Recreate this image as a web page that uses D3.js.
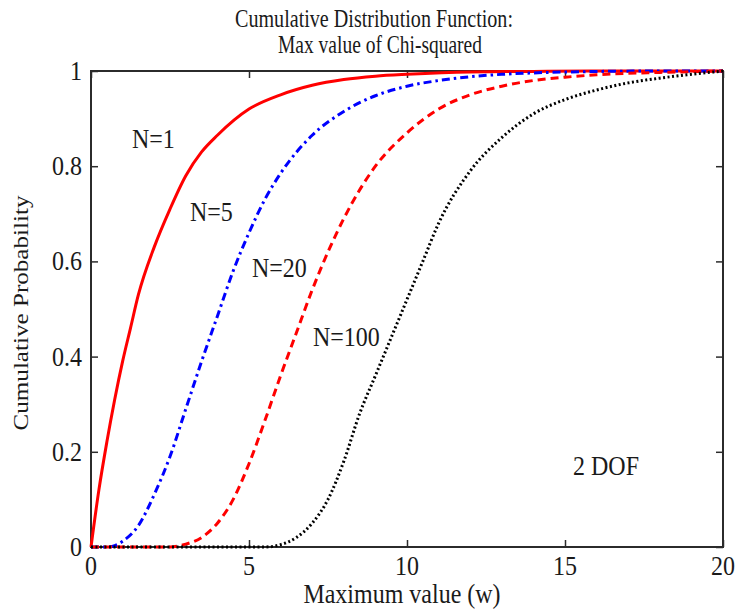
<!doctype html>
<html lang="en">
  <head>
    <meta charset="utf-8">
    <title>CDF of max chi-squared</title>
    <script src="https://d3js.org/d3.v7.min.js"></script>
    <style>
      body { margin: 0; background: #fff; }
      text { font-family: "Liberation Serif", "Times New Roman", serif; fill: #1a1a1a; }
    </style>
  </head>
  <body>
    <div id="chart"></div>
<script>
// maximum value w (x) and cumulative probability (y), one pair of arrays per curve
const wN1 = [0, 0.25, 0.5, 0.75, 1, 1.25, 1.5, 2, 2.5, 3, 3.5, 4, 5, 6, 7, 8, 9, 10, 12, 14, 16, 20];
const pN1 = [0, 0.12, 0.22, 0.31, 0.39, 0.46, 0.53, 0.63, 0.71, 0.78, 0.83, 0.865, 0.92, 0.95, 0.97, 0.982, 0.989, 0.993, 0.998, 0.999, 1, 1];

const wN5 = [0, 0.5, 0.75, 1, 1.5, 2, 2.5, 3, 3.5, 4, 4.5, 5, 5.5, 6, 7, 8, 9, 10, 11, 12, 13, 14, 16, 18, 20];
const pN5 = [0, 0, 0.003, 0.012, 0.045, 0.11, 0.19, 0.29, 0.39, 0.485, 0.58, 0.66, 0.73, 0.785, 0.865, 0.915, 0.948, 0.968, 0.98, 0.988, 0.993, 0.996, 0.999, 1, 1];

const wN20 = [0, 2.5, 3, 3.5, 4, 4.5, 5, 5.5, 6, 6.5, 7, 7.5, 8, 9, 10, 11, 12, 13, 14, 15, 16, 18, 20];
const pN20 = [0, 0, 0.006, 0.02, 0.05, 0.1, 0.175, 0.265, 0.36, 0.45, 0.54, 0.62, 0.69, 0.8, 0.87, 0.92, 0.95, 0.968, 0.98, 0.987, 0.992, 0.997, 1];

const wN100 = [0, 5.5, 6, 6.5, 7, 7.5, 8, 8.5, 9, 9.5, 10, 10.5, 11, 12, 13, 14, 15, 16, 17, 18, 19, 20];
const pN100 = [0, 0, 0.005, 0.02, 0.05, 0.1, 0.18, 0.28, 0.36, 0.44, 0.52, 0.6, 0.68, 0.79, 0.86, 0.91, 0.94, 0.96, 0.975, 0.985, 0.993, 1];

const seriesNames = ["N=1", "N=5", "N=20", "N=100"];
const xTicks = [0, 5, 10, 15, 20];
const xTickLabels = ["0", "5", "10", "15", "20"];
const yTicks = [0, 0.2, 0.4, 0.6, 0.8, 1];
const yTickLabels = ["0", "0.2", "0.4", "0.6", "0.8", "1"];

const width = 746, height = 610;
const margin = {top: 71, right: 23, bottom: 63, left: 91};

const svg = d3.select("#chart").append("svg")
    .attr("width", width)
    .attr("height", height)
    .attr("viewBox", [0, 0, width, height]);

const x = d3.scaleLinear([0, 20], [margin.left, width - margin.right]);
const y = d3.scaleLinear([0, 1], [height - margin.bottom, margin.top]);

// text is drawn a little taller than wide
const stretch = 1.1;
function place(px, py) {
  return `translate(${px},${py}) scale(1,${stretch})`;
}

// frame with inward ticks on all four sides
const axisColor = "#2b2b2b";
svg.append("rect")
    .attr("x", x(0)).attr("y", y(1))
    .attr("width", x(20) - x(0)).attr("height", y(0) - y(1))
    .attr("fill", "none").attr("stroke", axisColor).attr("stroke-width", 2);

const tickStyle = g => g.call(g => g.select(".domain").remove())
    .call(g => g.selectAll("line").attr("stroke", axisColor).attr("stroke-width", 1.5));

svg.append("g")
    .attr("transform", `translate(0,${y(0)})`)
    .call(d3.axisTop(x).tickValues(xTicks).tickSize(7).tickFormat(""))
    .call(tickStyle);
svg.append("g")
    .attr("transform", `translate(0,${y(1)})`)
    .call(d3.axisBottom(x).tickValues(xTicks).tickSize(7).tickFormat(""))
    .call(tickStyle);
svg.append("g")
    .attr("transform", `translate(${x(0)},0)`)
    .call(d3.axisRight(y).tickValues(yTicks).tickSize(7).tickFormat(""))
    .call(tickStyle);
svg.append("g")
    .attr("transform", `translate(${x(20)},0)`)
    .call(d3.axisLeft(y).tickValues(yTicks).tickSize(7).tickFormat(""))
    .call(tickStyle);

// tick labels
svg.append("g").selectAll("text")
  .data(xTicks)
  .join("text")
    .attr("transform", d => place(x(d), y(0) + 28))
    .attr("text-anchor", "middle")
    .attr("font-size", 24)
    .text((d, i) => xTickLabels[i]);

svg.append("g").selectAll("text")
  .data(yTicks)
  .join("text")
    .attr("transform", d => place(x(0) - 9, y(d) + 9))
    .attr("text-anchor", "end")
    .attr("font-size", 24)
    .text((d, i) => yTickLabels[i]);

// curves
const curves = [
  {w: wN1, p: pN1, color: "#ff0000", dash: null, width: 3},
  {w: wN5, p: pN5, color: "#0000ff", dash: "8,4,2.5,4", width: 3},
  {w: wN20, p: pN20, color: "#ff0000", dash: "8,5", width: 3},
  {w: wN100, p: pN100, color: "#000000", dash: "2,2.5", width: 3}
];

const line = d3.line()
    .x(d => x(d[0]))
    .y(d => y(d[1]))
    .curve(d3.curveMonotoneX);

svg.append("g")
  .selectAll("path")
  .data(curves)
  .join("path")
    .attr("d", c => line(d3.zip(c.w, c.p)))
    .attr("fill", "none")
    .attr("stroke", c => c.color)
    .attr("stroke-width", c => c.width)
    .attr("stroke-dasharray", c => c.dash);

// curve labels
const labelPos = [[132, 148], [190, 221], [252, 277], [313, 346]];
svg.append("g").selectAll("text")
  .data(seriesNames)
  .join("text")
    .attr("transform", (d, i) => place(labelPos[i][0], labelPos[i][1]))
    .attr("font-size", 24)
    .text(d => d);

svg.append("text")
    .attr("transform", place(573, 475))
    .attr("font-size", 24)
    .text("2 DOF");

// titles
svg.append("text")
    .attr("x", 374).attr("y", 27)
    .attr("text-anchor", "middle")
    .attr("font-size", 25)
    .attr("textLength", 278)
    .attr("lengthAdjust", "spacingAndGlyphs")
    .text("Cumulative Distribution Function:");
svg.append("text")
    .attr("x", 380).attr("y", 53)
    .attr("text-anchor", "middle")
    .attr("font-size", 25)
    .attr("textLength", 204)
    .attr("lengthAdjust", "spacingAndGlyphs")
    .text("Max value of Chi-squared");

svg.append("text")
    .attr("transform", place(402, 603))
    .attr("text-anchor", "middle")
    .attr("font-size", 24)
    .text("Maximum value (w)");

svg.append("text")
    .attr("transform", `translate(28,313) rotate(-90)`)
    .attr("text-anchor", "middle")
    .attr("font-size", 20)
    .attr("textLength", 235)
    .attr("lengthAdjust", "spacingAndGlyphs")
    .text("Cumulative Probability");
</script>
  </body>
</html>
